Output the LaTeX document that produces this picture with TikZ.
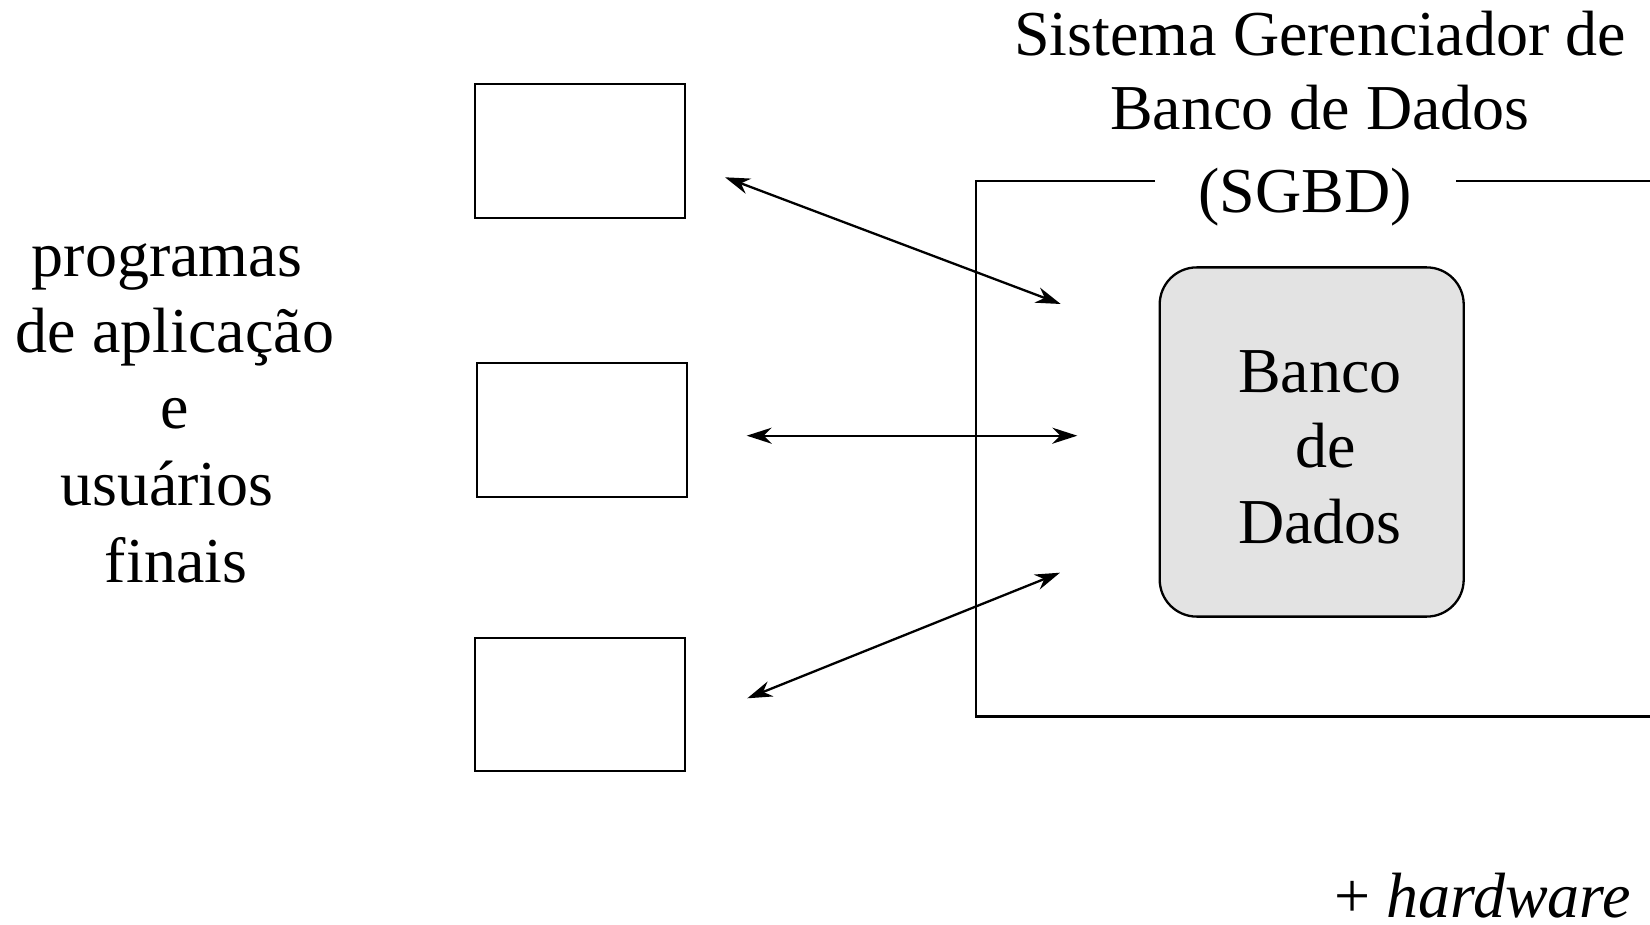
\documentclass[tikz,border=0pt]{standalone}
\usepackage{fontspec}
\setmainfont{Liberation Serif}
\usetikzlibrary{arrows.meta}
\begin{document}
\begin{tikzpicture}[x=0.5pt,y=-0.5pt,
    line width=1.15pt,
    txt/.style={inner sep=0pt,anchor=base,font=\fontsize{32}{38}\selectfont},
    appbox/.style={draw,minimum width=105.2pt,minimum height=66.8pt,inner sep=0pt},
    link/.style={{Stealth[length=12.5pt,width=8pt,inset=4pt]}-{Stealth[length=12.5pt,width=8pt,inset=4pt]}}]
  \useasboundingbox (0,0) rectangle (1650,925);

  % application programs and end users
  \node[appbox] (b1) at (580,151) {};
  \node[appbox] (b2) at (582,430) {};
  \node[appbox] (b3) at (580,704.5) {};

  \node[txt] (l1) at (167,276.5) {programas};
  \node[txt] (l2) at (175,352.5) {de aplicação};
  \node[txt] (l3) at (175,428.5) {e};
  \node[txt] (l4) at (167,505.5) {usuários};
  \node[txt] (l5) at (176,582.5) {finais};

  % DBMS frame, open at the right and broken by its title
  \coordinate (f1) at (1155,181);
  \coordinate (f2) at (1456,181);
  \coordinate (f3) at (1650,181);
  \coordinate (f4) at (1650,716.5);
  \draw (f1) -| (976,716.5) -- (f4);
  \draw (f2) -- (f3);

  \node[txt] (t1) at (1320,56) {Sistema Gerenciador de};
  \node[txt] (t2) at (1320,129.5) {Banco de Dados};
  \node[txt] (t3) at (1305,212.5) {(SGBD)};

  % the database
  \node[draw,fill=black!11,rounded corners=18.5pt,minimum width=152pt,minimum height=174.6pt,inner sep=0pt]
    (db) at (1311.7,442) {};
  \node[txt] (d1) at (1320,392.5) {Banco};
  \node[txt] (d2) at (1326,467.5) {de};
  \node[txt] (d3) at (1320,543) {Dados};

  % access paths
  \coordinate (a1) at (725,177.3);
  \coordinate (a2) at (1060.7,304);
  \coordinate (a3) at (746.7,435.7);
  \coordinate (a4) at (1077.3,435.7);
  \coordinate (a5) at (747.3,698.3);
  \coordinate (a6) at (1060,572.7);
  \draw[link] (a1) -- (a2);
  \draw[link] (a3) -- (a4);
  \draw[link] (a5) -- (a6);

  \node[txt,anchor=base east,text depth=0pt] (hw) at (1632,917) {+ \textit{hardware}};
\end{tikzpicture}
\end{document}
